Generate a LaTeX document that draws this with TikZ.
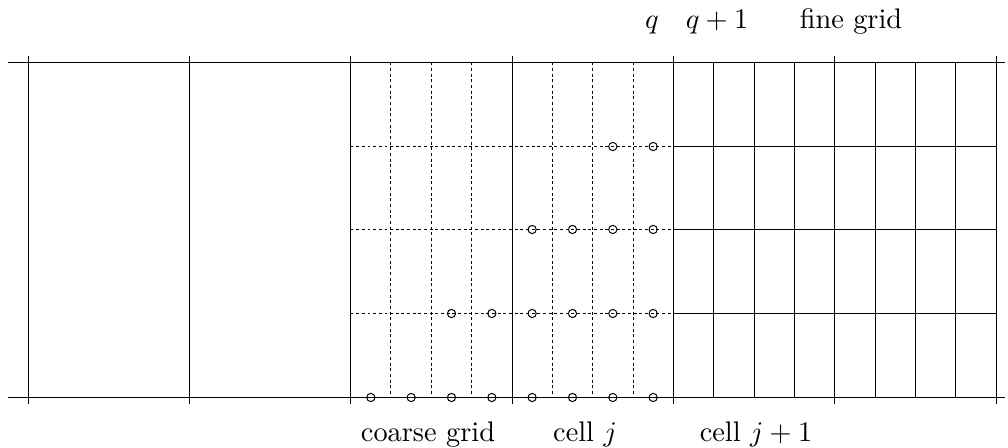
\documentclass[tikz,border=0pt]{standalone}
\begin{document}
\begin{tikzpicture}[x=0.353pt,y=-0.353pt,
  gridline/.style={line width=0.38pt},
  dashline/.style={line width=0.35pt, dash pattern=on 1pt off 1pt},
  mark point/.style={circle, draw, line width=0.35pt, inner sep=0pt, minimum size=2.9pt},
  lbl/.style={anchor=base, inner sep=0pt}]
\useasboundingbox (0,0) rectangle (1008,448);
% main horizontal lines
\draw[gridline] (8,62.5) -- (1005,62.5);
\draw[gridline] (8,397.5) -- (1005,397.5);
% main cell boundaries with ticks
\foreach \x in {28.5,189.5,350.5,512.5,673.5,834.5,996.5}
  \draw[gridline] (\x,56) -- (\x,404);
% coarse region: dashed sub-grid
\foreach \x in {390.5,431.5,471.5,552.5,592.5,633.5}
  \draw[dashline] (\x,62.5) -- (\x,397.5);
\foreach \y in {146.5,229.5,313.5}
  \draw[dashline] (350.5,\y) -- (673.5,\y);
\draw[dashline] (350.5,62.5) -- (673.5,62.5);
% fine region: solid sub-grid
\foreach \x in {713.5,754.5,794.5,875.5,915.5,955.5}
  \draw[gridline] (\x,62.5) -- (\x,397.5);
\foreach \y in {146.5,229.5,313.5}
  \draw[gridline] (673.5,\y) -- (996.5,\y);
% points
\foreach \i in {0,...,7}
  \node[mark point] (b\i) at ({350.67+40.33*(\i+0.5)},397.5) {};
\foreach \i in {2,...,7}
  \node[mark point] (r\i) at ({350.67+40.33*(\i+0.5)},313.5) {};
\foreach \i in {4,...,7}
  \node[mark point] (s\i) at ({350.67+40.33*(\i+0.5)},229.5) {};
\foreach \i in {6,7}
  \node[mark point] (t\i) at ({350.67+40.33*(\i+0.5)},146.5) {};
% labels
\node[lbl] (q) at (652,29) {$q$};
\node[lbl] (q1) at (717,29) {$q+1$};
\node[lbl] (fine) at (851,29) {fine grid};
\node[lbl] (coarse) at (428,441) {coarse grid};
\node[lbl] (cellj) at (585,441) {cell $j$};
\node[lbl] (cellj1) at (756,441) {cell $j+1$};
\end{tikzpicture}
\end{document}
